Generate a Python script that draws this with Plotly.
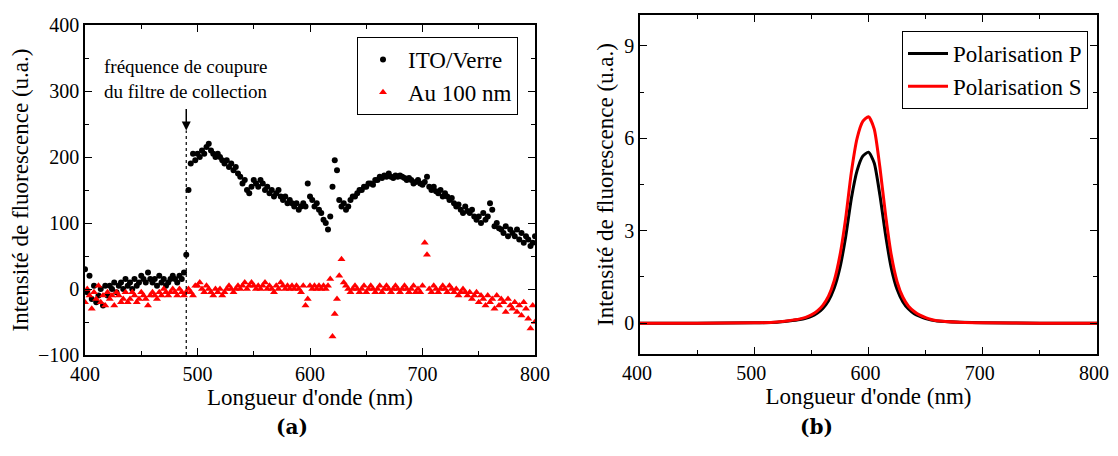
import numpy as np
import plotly.graph_objects as go

# ---------- Data (a) ----------
wl_a = list(range(400, 801, 2))

ito_verre = [
    30, -5, 20, -15, 5, -20, -10, 0, -25, 5,
    -10, 5, 0, 10, -5, 5, 10, 0, 15, 5,
    10, 0, 15, 5, 10, 20, 15, 10, 25, 15,
    10, 15, 5, 20, 10, 15, 5, 10, 15, 20,
    15, 10, 20, 15, 25, 52, 150, 190, 205, 195,
    205, 200, 210, 205, 215, 220, 210, 205, 200, 205,
    200, 195, 190, 195, 185, 190, 180, 185, 175, 170,
    160, 165, 150, 145, 155, 165, 160, 155, 165, 160,
    150, 155, 145, 150, 140, 145, 150, 140, 135, 140,
    130, 135, 130, 125, 130, 120, 125, 130, 125, 160,
    140, 135, 125, 130, 120, 115, 105, 100, 90, 110,
    155, 195, 180, 135, 125, 130, 120, 125, 135, 140,
    140, 145, 150, 150, 155, 155, 160, 160, 158, 165,
    165, 170, 168, 172, 170, 175, 170, 168, 172, 170,
    172, 170, 168, 165, 168, 165, 160, 162, 165, 160,
    158, 162, 170, 155, 150, 155, 148, 145, 150, 140,
    145, 140, 135, 138, 130, 125, 128, 120, 115, 125,
    118, 115, 120, 110, 105, 110, 100, 115, 105, 110,
    130, 120, 95, 100, 92, 90, 85, 95, 80, 90,
    85, 80, 90, 75, 85, 70, 80, 75, 65, 70,
    80,
]

au_100nm = [
    -20, 0, -10, -30, -5, -15, 5, -20, -10, -25,
    -5, -15, -10, -25, -5, -10, -20, -15, -5, -20,
    -15, -5, -10, -20, -15, -5, -10, -15, -25, -10,
    -5, -10, -15, -5, -10, 0, -5, -10, -5, 0,
    -5, -10, 0, -5, -10, -5, 0, -5, -10, 5,
    5, 10, 0, -5, 5, 0, -5, -10, 0, -5,
    0, -10, -5, 0, 5, 0, -5, 0, 5, 0,
    5, 10, 0, 5, 10, 5, 0, 5, 0, 5,
    10, 0, 5, 0, -5, 5, 0, 10, 5, 0,
    5, 0, 5, 0, 5, 0, -5, 5, -25, -15,
    5, 0, 5, 0, 5, 0, 5, 0, 5, 15,
    -72, -38, -15, 20, 45, 10, 5, 0, -5, 0,
    5, 0, -5, 0, 5, -5, 0, 5, 0, -5,
    0, 5, -5, 0, 5, 0, -5, 0, 5, 0,
    -5, 0, 5, 0, -5, 0, 5, -5, 0, -5,
    5, 70, 52, 0, -5, 5, 0, -5, 0, 5,
    0, -5, 5, 0, -5, 0, -10, -5, 0, -5,
    -10, -5, -15, -10, -5, -20, -10, -15, -25, -10,
    -20, -15, -30, -10, -25, -15, -20, -35, -15, -25,
    -30, -20, -35, -25, -40, -20, -30, -45, -60, -25,
    -50,
]

# ---------- Data (b) ----------
wl_b = [400, 450, 500, 520, 530, 540, 545, 550, 555, 560, 565, 570, 575, 580,
        585, 590, 595, 600, 605, 610, 615, 620, 625, 630, 635, 640, 645, 650,
        655, 660, 680, 700, 750, 800]
pol_s = [0, 0, 0.01, 0.04, 0.08, 0.14, 0.19, 0.27, 0.39, 0.58, 0.88, 1.38, 2.2,
         3.4, 4.9, 6.0, 6.55, 6.7, 6.3, 5.05, 3.5, 2.2, 1.35, 0.85, 0.55, 0.38,
         0.26, 0.18, 0.12, 0.08, 0.03, 0.01, 0, 0]
pol_p = [0, 0, 0.01, 0.03, 0.07, 0.12, 0.16, 0.22, 0.32, 0.48, 0.73, 1.14, 1.8,
         2.8, 4.05, 4.95, 5.42, 5.55, 5.2, 4.15, 2.85, 1.78, 1.1, 0.7, 0.46,
         0.31, 0.22, 0.15, 0.1, 0.07, 0.03, 0.01, 0, 0]

cutoff_wl = 490

FONT = "Liberation Serif, Times New Roman, Times, serif"
OFF = 8  # page body margin
W, H = 1118 - OFF, 456 - 2 * OFF

def px_x(p):
    return (p - OFF) / W

def px_y(p):
    return 1 - (p - OFF) / H

fig = go.Figure()

fig.add_trace(go.Scatter(
    x=wl_a, y=ito_verre, mode="markers", name="ITO/Verre",
    marker=dict(symbol="circle", size=6, color="black"),
    xaxis="x", yaxis="y", legend="legend"))
fig.add_trace(go.Scatter(
    x=wl_a, y=au_100nm, mode="markers", name="Au 100 nm",
    marker=dict(symbol="triangle-up", size=7, color="#ff0000"),
    xaxis="x", yaxis="y", legend="legend"))

fig.add_trace(go.Scatter(
    x=wl_b, y=pol_p, mode="lines", name="Polarisation P",
    line=dict(color="black", width=3, shape="spline", smoothing=0.6),
    xaxis="x2", yaxis="y2", legend="legend2"))
fig.add_trace(go.Scatter(
    x=wl_b, y=pol_s, mode="lines", name="Polarisation S",
    line=dict(color="#ff0000", width=3, shape="spline", smoothing=0.6),
    xaxis="x2", yaxis="y2", legend="legend2"))

minor_common = dict(ticks="inside", ticklen=4, tickcolor="black", tickwidth=1.2)

axis_common = dict(
    showline=True, linecolor="black", linewidth=1.5, mirror="ticks",
    ticks="inside", ticklen=7, tickwidth=1.2, tickcolor="black",
    showgrid=False, zeroline=False, automargin=False,
    tickfont=dict(family=FONT, size=20, color="black"),
)
title_font = dict(family=FONT, size=23, color="black")

fig.update_layout(
    width=W, height=H,
    margin=dict(l=0, r=0, t=0, b=0),
    paper_bgcolor="white", plot_bgcolor="white",
    font=dict(family=FONT, color="black"),
    xaxis=dict(axis_common, domain=[px_x(85), px_x(535)], range=[400, 800],
               dtick=100, minor=dict(minor_common, dtick=50),
               anchor="y",
               title=dict(text="Longueur d'onde (nm)", font=title_font, standoff=4)),
    yaxis=dict(axis_common, domain=[px_y(355), px_y(25)], range=[-100, 400],
               dtick=100, minor=dict(minor_common, dtick=50),
               anchor="x",
               title=dict(text="Intensité de fluorescence (u.a.)", font=title_font, standoff=4)),
    xaxis2=dict(axis_common, domain=[px_x(640), px_x(1097)], range=[400, 800],
                dtick=100, minor=dict(minor_common, dtick=50),
                anchor="y2", ticklabelshift=-3,
                title=dict(text="Longueur d'onde (nm)", font=title_font, standoff=4)),
    yaxis2=dict(axis_common, domain=[px_y(354), px_y(15)], range=[-1, 10],
                tickvals=[0, 3, 6, 9],
                minor=dict(minor_common, tickvals=[-1.5, 1.5, 4.5, 7.5]),
                anchor="x2",
                title=dict(text="Intensité de fluorescence (u.a.)", font=title_font, standoff=4)),
    legend=dict(x=px_x(518), y=px_y(37), xanchor="right", yanchor="top",
                bgcolor="white", bordercolor="black", borderwidth=1,
                font=dict(family=FONT, size=23), itemwidth=40, tracegroupgap=0),
    legend2=dict(x=px_x(1088), y=px_y(31), xanchor="right", yanchor="top",
                 bgcolor="white", bordercolor="black", borderwidth=1,
                 font=dict(family=FONT, size=23), itemwidth=40),
    showlegend=True,
)

# cutoff dotted line
fig.add_shape(type="line", xref="x", yref="y", x0=cutoff_wl, x1=cutoff_wl,
              y0=-100, y1=240, line=dict(color="black", width=1.2, dash="dot"))
# arrow
fig.add_annotation(xref="x", yref="y", axref="x", ayref="y",
                   x=cutoff_wl, y=240, ax=cutoff_wl, ay=275, text="",
                   showarrow=True, arrowhead=2, arrowsize=1.2, arrowwidth=1.5,
                   arrowcolor="black")
fig.add_annotation(xref="x", yref="y", x=cutoff_wl, y=318,
                   text="fréquence de coupure<br>du filtre de collection",
                   showarrow=False, align="left",
                   font=dict(family=FONT, size=19, color="black"))

# panel labels
fig.add_annotation(xref="paper", yref="paper", x=px_x(274), y=px_y(441),
                   text="<b>(a)</b>", showarrow=False,
                   font=dict(family="DejaVu Serif", size=20, color="black"))
fig.add_annotation(xref="paper", yref="paper", x=px_x(835), y=px_y(441),
                   text="<b>(b)</b>", showarrow=False,
                   font=dict(family="DejaVu Serif", size=20, color="black"))

fig.write_html("out.html")
